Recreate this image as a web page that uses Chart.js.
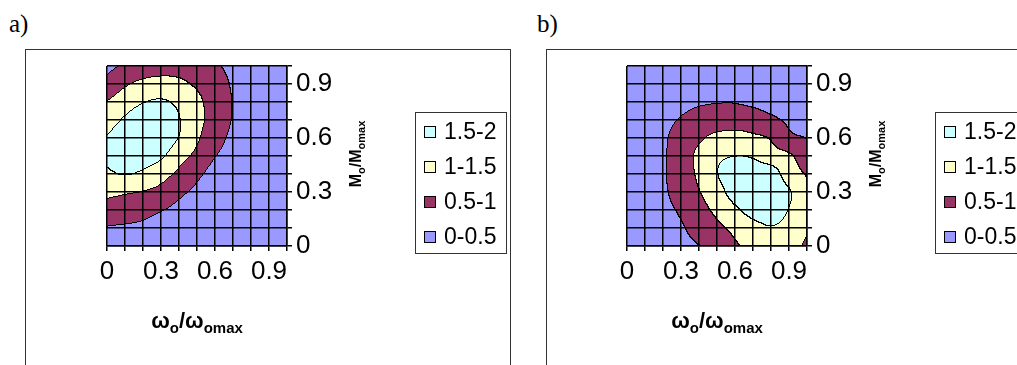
<!DOCTYPE html>
<html>
<head>
<meta charset="utf-8">
<script src="https://cdn.jsdelivr.net/npm/chart.js@4.4.1/dist/chart.umd.min.js"></script>
<style>
  html, body { margin: 0; padding: 0; background: #fff; width: 1017px; height: 365px; overflow: hidden; }
  .frame { position: absolute; top: 49px; height: 400px; border: 1px solid #333; box-sizing: border-box; }
  .panel { position: absolute; top: 0; }
  .tag { position: absolute; top: 11px; font: 25px "Liberation Serif", "Times New Roman", serif; line-height: 1; color: #000; }
</style>
</head>
<body>
<div class="tag" style="left:9px">a)</div>
<div class="tag" style="left:537px">b)</div>
<div class="frame" style="left:25px; width:486px"></div>
<div class="frame" style="left:546px; width:600px"></div>
<canvas id="chartA" class="panel" style="left:0" width="520" height="365"></canvas>
<canvas id="chartB" class="panel" style="left:520px" width="497" height="365"></canvas>
<script>
// grid nodes of the surface, same for both panels
const omegaRatio = [0, 0.1, 0.2, 0.3, 0.4, 0.5, 0.6, 0.7, 0.8, 0.9, 1.0];   // wo/womax
const momentRatio = [0, 0.1, 0.2, 0.3, 0.4, 0.5, 0.6, 0.7, 0.8, 0.9, 1.0];  // Mo/Momax
const tickLabels = ['0', '', '', '0.3', '', '', '0.6', '', '', '0.9', ''];

const bandLabels = ['1.5-2', '1-1.5', '0.5-1', '0-0.5'];
const bandFloor = [1.5, 1, 0.5, 0];
const bandColors = ['#CCFFFF', '#FFFFCC', '#993366', '#9999FF'];

const xTitle = [['\u03C9', false], ['o', true], ['/', false], ['\u03C9', false], ['omax', true]];
const yTitle = [['M', false], ['o', true], ['/', false], ['M', false], ['omax', true]];

// surface values, one row per Mo/Momax node (first row = 0), columns follow omegaRatio
const surfaceA = [
  [0.30, 0.30, 0.28, 0.24, 0.20, 0.17, 0.15, 0.13, 0.11, 0.09, 0.08],
  [0.48, 0.45, 0.42, 0.33, 0.30, 0.24, 0.19, 0.16, 0.13, 0.11, 0.09],
  [0.80, 0.75, 0.65, 0.53, 0.40, 0.32, 0.24, 0.19, 0.15, 0.12, 0.10],
  [1.12, 1.06, 0.99, 0.86, 0.60, 0.42, 0.29, 0.23, 0.18, 0.14, 0.11],
  [1.42, 1.53, 1.42, 1.20, 0.90, 0.60, 0.36, 0.27, 0.21, 0.16, 0.13],
  [1.58, 1.75, 1.72, 1.58, 1.20, 0.88, 0.52, 0.38, 0.27, 0.20, 0.15],
  [1.52, 1.78, 1.85, 1.76, 1.49, 1.08, 0.68, 0.42, 0.31, 0.23, 0.17],
  [1.25, 1.56, 1.76, 1.78, 1.53, 1.15, 0.82, 0.48, 0.34, 0.25, 0.19],
  [1.01, 1.26, 1.47, 1.55, 1.40, 1.12, 0.78, 0.49, 0.35, 0.26, 0.20],
  [0.64, 0.93, 1.10, 1.16, 1.10, 0.93, 0.72, 0.46, 0.33, 0.25, 0.19],
  [0.36, 0.56, 0.72, 0.78, 0.80, 0.72, 0.56, 0.39, 0.29, 0.22, 0.17]
];
const surfaceB = [
  [0.12, 0.18, 0.26, 0.37, 0.49, 0.70, 0.93, 1.15, 1.25, 1.18, 0.92],
  [0.14, 0.20, 0.30, 0.45, 0.68, 0.90, 1.12, 1.36, 1.48, 1.36, 1.06],
  [0.16, 0.24, 0.38, 0.56, 0.82, 1.11, 1.42, 1.65, 1.66, 1.49, 1.12],
  [0.17, 0.27, 0.43, 0.68, 0.97, 1.32, 1.67, 1.84, 1.78, 1.55, 1.12],
  [0.17, 0.28, 0.45, 0.72, 1.08, 1.48, 1.68, 1.73, 1.75, 1.25, 0.96],
  [0.17, 0.28, 0.44, 0.74, 1.10, 1.40, 1.49, 1.45, 1.19, 1.07, 0.72],
  [0.16, 0.27, 0.43, 0.68, 0.92, 1.12, 1.17, 1.09, 0.96, 0.60, 0.49],
  [0.15, 0.25, 0.38, 0.53, 0.66, 0.72, 0.76, 0.72, 0.58, 0.44, 0.35],
  [0.12, 0.18, 0.30, 0.38, 0.45, 0.48, 0.48, 0.42, 0.36, 0.30, 0.25],
  [0.10, 0.15, 0.22, 0.28, 0.32, 0.35, 0.35, 0.32, 0.28, 0.24, 0.20],
  [0.08, 0.12, 0.17, 0.21, 0.25, 0.27, 0.27, 0.25, 0.22, 0.19, 0.16]
];

const FONT = '"Liberation Sans", Arial, sans-serif';
Chart.defaults.font.family = FONT;
Chart.defaults.color = '#000';

function bandOf(z) {
  for (let k = 0; k < bandFloor.length; k++) {
    if (z >= bandFloor[k]) return k;
  }
  return bandFloor.length - 1;
}

function cellOf(nodes, v) {
  let i = 0;
  while (i < nodes.length - 2 && v > nodes[i + 1]) i++;
  return i;
}

// catmull-rom weights, ends extended linearly
function node(surface, j, i) {
  const n = surface.length - 1, m = surface[0].length - 1;
  if (i < 0) return 2 * node(surface, j, 0) - node(surface, j, 1);
  if (i > m) return 2 * node(surface, j, m) - node(surface, j, m - 1);
  if (j < 0) return 2 * surface[0][i] - surface[1][i];
  if (j > n) return 2 * surface[n][i] - surface[n - 1][i];
  return surface[j][i];
}

function spline(p0, p1, p2, p3, t) {
  return 0.5 * (2 * p1 + (p2 - p0) * t + (2 * p0 - 5 * p1 + 4 * p2 - p3) * t * t
    + (3 * p1 - p0 - 3 * p2 + p3) * t * t * t);
}

// smooth value of the surface between grid nodes
function surfaceAt(surface, xv, yv) {
  const i = cellOf(omegaRatio, xv), j = cellOf(momentRatio, yv);
  const tx = Math.min(Math.max((xv - omegaRatio[i]) / (omegaRatio[i + 1] - omegaRatio[i]), 0), 1);
  const ty = Math.min(Math.max((yv - momentRatio[j]) / (momentRatio[j + 1] - momentRatio[j]), 0), 1);
  const col = [];
  for (let dj = -1; dj <= 2; dj++) {
    col.push(spline(node(surface, j + dj, i - 1), node(surface, j + dj, i),
      node(surface, j + dj, i + 1), node(surface, j + dj, i + 2), tx));
  }
  return spline(col[0], col[1], col[2], col[3], ty);
}

function nodesInBand(surface, k) {
  const pts = [];
  surface.forEach((row, j) => row.forEach((z, i) => {
    if (bandOf(z) === k) pts.push({ x: omegaRatio[i], y: momentRatio[j] });
  }));
  return pts;
}

function hexRgb(hex) {
  const n = parseInt(hex.slice(1), 16);
  return [(n >> 16) & 255, (n >> 8) & 255, n & 255];
}

function drawRich(ctx, parts, cx, base, mainFont, subFont, shift) {
  let total = 0;
  parts.forEach(([t, sub]) => { ctx.font = sub ? subFont : mainFont; total += ctx.measureText(t).width; });
  let x = cx - total / 2;
  ctx.textAlign = 'left';
  ctx.textBaseline = 'alphabetic';
  parts.forEach(([t, sub]) => {
    ctx.font = sub ? subFont : mainFont;
    ctx.fillText(t, x, base + (sub ? shift : 0));
    x += ctx.measureText(t).width;
  });
}

function contourPlugin(surface) {
  return {
    id: 'contourFill',
    beforeDraw(chart) {
      const { ctx, chartArea: area, scales: { x, y } } = chart;
      const left = Math.round(area.left), top = Math.round(area.top);
      const w = Math.round(area.right) - left, h = Math.round(area.bottom) - top;
      const band = new Int8Array(w * h);
      for (let r = 0; r < h; r++) {
        const yv = y.getValueForPixel(top + r + 0.5);
        for (let c = 0; c < w; c++) {
          band[r * w + c] = bandOf(surfaceAt(surface, x.getValueForPixel(left + c + 0.5), yv));
        }
      }
      const rgb = bandColors.map(hexRgb);
      const off = document.createElement('canvas');
      off.width = w; off.height = h;
      const octx = off.getContext('2d');
      const img = octx.createImageData(w, h);
      for (let r = 0; r < h; r++) {
        for (let c = 0; c < w; c++) {
          const idx = r * w + c, k = band[idx];
          const edge = (c + 1 < w && band[idx + 1] !== k) || (r + 1 < h && band[idx + w] !== k);
          const col = edge ? [0, 0, 0] : rgb[k];
          img.data[idx * 4] = col[0];
          img.data[idx * 4 + 1] = col[1];
          img.data[idx * 4 + 2] = col[2];
          img.data[idx * 4 + 3] = 255;
        }
      }
      octx.putImageData(img, 0, 0);
      ctx.drawImage(off, left, top);
    },
    afterDraw(chart) {
      const { ctx, chartArea: area } = chart;
      ctx.save();
      ctx.fillStyle = '#000';
      // axis titles
      drawRich(ctx, xTitle, (area.left + area.right) / 2, area.bottom + 82,
        'bold 22px ' + FONT, 'bold 15px ' + FONT, 5);
      ctx.save();
      ctx.translate(area.right + 74, (area.top + area.bottom) / 2 - 2);
      ctx.rotate(-Math.PI / 2);
      drawRich(ctx, yTitle, 0, 0, 'bold 16px ' + FONT, 'bold 11px ' + FONT, 4);
      ctx.restore();

      // legend box
      const lx = area.right + 128, ly = area.top + 46;
      ctx.strokeStyle = '#333';
      ctx.lineWidth = 1;
      ctx.strokeRect(lx + 0.5, ly + 0.5, 91, 141);
      ctx.font = '23px ' + FONT;
      ctx.textBaseline = 'middle';
      ctx.textAlign = 'left';
      chart.data.datasets.forEach((ds, k) => {
        const cy = ly + 20 + k * 35;
        ctx.fillStyle = ds.backgroundColor;
        ctx.fillRect(lx + 9, cy - 6, 12, 12);
        ctx.strokeStyle = '#000';
        ctx.strokeRect(lx + 9.5, cy - 5.5, 11, 11);
        ctx.fillStyle = '#000';
        ctx.fillText(ds.label, lx + 29, cy + 1);
      });
      ctx.restore();
    }
  };
}

function axisOptions(position, padding, fit) {
  return {
    type: 'linear',
    position: position,
    min: 0,
    max: 1,
    grid: { color: '#000', lineWidth: 1.5, tickLength: 5, drawTicks: true },
    border: { color: '#000', width: 1.5 },
    ticks: {
      stepSize: 0.1,
      autoSkip: false,
      maxRotation: 0,
      minRotation: 0,
      padding: padding,
      color: '#000',
      font: { size: 26 },
      callback: (value, index) => tickLabels[index]
    },
    afterFit: fit
  };
}

function makePanel(canvasId, surface) {
  const canvas = document.getElementById(canvasId);
  return new Chart(canvas, {
    type: 'scatter',
    data: {
      datasets: bandLabels.map((label, k) => ({
        label: label,
        backgroundColor: bandColors[k],
        borderColor: '#000',
        pointRadius: 0,
        data: nodesInBand(surface, k)
      }))
    },
    options: {
      responsive: false,
      animation: false,
      devicePixelRatio: 1,
      events: [],
      layout: { padding: { left: 107, top: 66, right: canvas.width - 287 - 70, bottom: 365 - 246 - 50 } },
      plugins: { legend: { display: false }, tooltip: { enabled: false } },
      scales: {
        x: axisOptions('bottom', 5, s => { s.height = 50; }),
        y: axisOptions('right', 4, s => { s.width = 70; })
      }
    },
    plugins: [contourPlugin(surface)]
  });
}

makePanel('chartA', surfaceA);
makePanel('chartB', surfaceB);
</script>
</body>
</html>
